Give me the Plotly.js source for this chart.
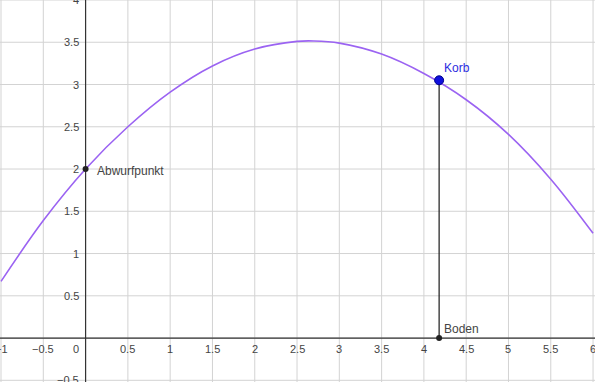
<!DOCTYPE html>
<html>
<head>
<meta charset="utf-8">
<script src="https://cdn.plot.ly/plotly-3.0.1.min.js"></script>
<style>html,body{margin:0;padding:0;background:#fff;}#chart{width:595px;height:382px;}</style>
</head>
<body>
<div id="chart"></div>
<script>
// Curve samples
const curveX = [-1, -0.5, 0, 0.5, 1, 1.5, 2, 2.5, 2.7, 3, 3.5, 4, 4.5, 5, 5.5, 6];
const curveY = [0.67, 1.39, 2.0, 2.5, 2.91, 3.22, 3.42, 3.51, 3.515, 3.49, 3.36, 3.13, 2.82, 2.41, 1.88, 1.24];

// Named points
const pointNames = ["Abwurfpunkt", "Korb", "Boden"];
const pointX = [0, 4.18, 4.18];
const pointY = [2, 3.05, 0];

// Tick labels
const xTickVals = [-1, -0.5, 0, 0.5, 1, 1.5, 2, 2.5, 3, 3.5, 4, 4.5, 5, 5.5, 6];
const xTickText = ["\u22121", "\u22120.5", "0", "0.5", "1", "1.5", "2", "2.5", "3", "3.5", "4", "4.5", "5", "5.5", "6"];
const yTickVals = [-0.5, 0.5, 1, 1.5, 2, 2.5, 3, 3.5, 4];
const yTickText = ["\u22120.5", "0.5", "1", "1.5", "2", "2.5", "3", "3.5", "4"];

const xRange = [-1.012, 6.023];
const yRange = [-0.52, 4.0];

const gridVals = [-1, -0.5, 0, 0.5, 1, 1.5, 2, 2.5, 3, 3.5, 4, 4.5, 5, 5.5, 6];
const gridValsY = [-0.5, 0, 0.5, 1, 1.5, 2, 2.5, 3, 3.5, 4];

const traces = [
  {
    x: curveX, y: curveY, mode: 'lines', type: 'scatter',
    line: {color: '#9b63f2', width: 1.6, shape: 'spline', smoothing: 1.0},
    hoverinfo: 'skip'
  },
  {
    x: [pointX[2], pointX[1]], y: [pointY[2], pointY[1]], mode: 'lines', type: 'scatter',
    line: {color: '#1a1a1a', width: 1.2}, hoverinfo: 'skip'
  },
  {
    x: [pointX[0], pointX[2]], y: [pointY[0], pointY[2]], mode: 'markers', type: 'scatter',
    marker: {color: '#222', size: 6}, hoverinfo: 'skip'
  },
  {
    x: [pointX[1]], y: [pointY[1]], mode: 'markers', type: 'scatter',
    marker: {color: '#1010dd', size: 9, line: {color: '#00008a', width: 1}}, hoverinfo: 'skip'
  }
];

const fam = 'Liberation Sans, Arial, sans-serif';
const lblFont = {family: fam, size: 12, color: '#444'};
const tickFont = {family: fam, size: 11, color: '#444'};
const annotations = [
  {x: pointX[0], y: pointY[0], text: pointNames[0], showarrow: false, xanchor: 'left', yanchor: 'middle', xshift: 9, yshift: -2, font: lblFont},
  {x: pointX[1], y: pointY[1], text: pointNames[1], showarrow: false, xanchor: 'left', yanchor: 'middle', xshift: 3, yshift: 12, font: {family: fam, size: 12, color: '#2c2ce0'}},
  {x: pointX[2], y: pointY[2], text: pointNames[2], showarrow: false, xanchor: 'left', yanchor: 'middle', xshift: 3, yshift: 9, font: lblFont}
];

// axis tick labels placed along the axes (GeoGebra style)
xTickVals.forEach((v, i) => {
  const isZero = v === 0;
  annotations.push({x: v, y: 0, text: xTickText[i], showarrow: false,
    xanchor: isZero ? 'right' : 'center', yanchor: 'top',
    xshift: isZero ? -5 : 0, yshift: -3, font: tickFont});
});
yTickVals.forEach((v, i) => {
  annotations.push({x: 0, y: v, text: yTickText[i], showarrow: false,
    xanchor: 'right', yanchor: 'middle', xshift: -5, yshift: 0, font: tickFont});
});

const layout = {
  width: 595, height: 382,
  margin: {l: 0, r: 0, t: 0, b: 0, pad: 0},
  paper_bgcolor: '#fff', plot_bgcolor: '#fff',
  showlegend: false,
  xaxis: {range: xRange, showgrid: false, zeroline: false, showline: false, ticks: '', showticklabels: false},
  yaxis: {range: yRange, showgrid: false, zeroline: false, showline: false, ticks: '', showticklabels: false},
  shapes: [],
  annotations: annotations
};

// grid lines via shapes (behind data)
gridVals.forEach(v => {
  layout.shapes.push({type: 'line', xref: 'x', yref: 'paper', x0: v, x1: v, y0: 0, y1: 1, layer: 'below', line: {color: '#d3d3d3', width: 1}});
});
gridValsY.forEach(v => {
  layout.shapes.push({type: 'line', xref: 'paper', yref: 'y', x0: 0, x1: 1, y0: v, y1: v, layer: 'below', line: {color: '#d3d3d3', width: 1}});
});
// axes lines
layout.shapes.push({type: 'line', xref: 'paper', yref: 'y', x0: 0, x1: 1, y0: 0, y1: 0, layer: 'below', line: {color: '#333', width: 1.2}});
layout.shapes.push({type: 'line', xref: 'x', yref: 'paper', x0: 0, x1: 0, y0: 0, y1: 1, layer: 'below', line: {color: '#333', width: 1.2}});

Plotly.newPlot('chart', traces, layout, {staticPlot: true, displayModeBar: false});
</script>
</body>
</html>
